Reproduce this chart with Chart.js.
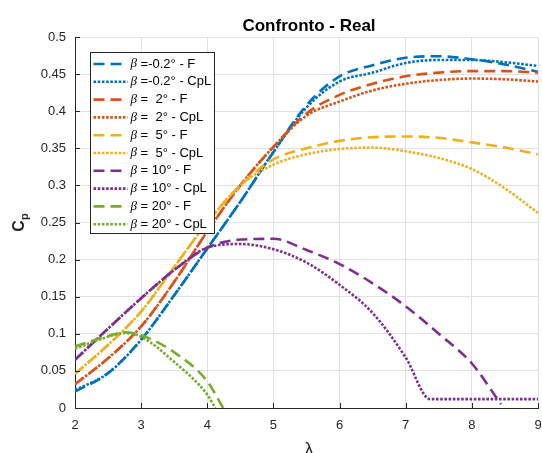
<!DOCTYPE html>
<html>
<head>
<meta charset="utf-8">
<title>Confronto - Real</title>
<script src="https://cdn.jsdelivr.net/npm/chart.js@4.4.0/dist/chart.umd.min.js"></script>
<style>
    html, body { margin: 0; padding: 0; background: #fff; }
    #cpChart { display: block; }
</style>
</head>
<body>
<canvas id="cpChart" width="542" height="453"></canvas>
<script>
(function() {
    'use strict';

    // tip speed ratio samples
    const lambda = [2, 2.5, 3, 3.5, 4, 4.5, 5, 5.5, 6, 6.5, 7, 7.5, 8, 8.5, 9];
    const lambdaPurpleF = [2, 2.5, 3, 3.5, 4, 4.5, 5, 5.5, 6, 6.5, 7, 7.5, 8, 8.44];
    const lambdaPurpleCpL = [2, 2.5, 3, 3.5, 4, 4.5, 5, 5.5, 6, 6.5, 7, 7.37, 7.5, 8, 8.5, 9];
    const lambdaGreenF = [2, 2.5, 2.75, 3, 3.5, 4, 4.24];
    const lambdaGreenCpL = [2, 2.5, 2.75, 3, 3.5, 4, 4.12];

    // power coefficient per pitch angle
    const cpBlueF = [0.022, 0.047, 0.092, 0.152, 0.215, 0.278, 0.345, 0.408, 0.447, 0.462, 0.472, 0.474, 0.470, 0.463, 0.453];
    const cpBlueCpL = [0.024, 0.047, 0.092, 0.152, 0.215, 0.278, 0.345, 0.405, 0.440, 0.452, 0.465, 0.469, 0.469, 0.466, 0.461];
    const cpRedF = [0.032, 0.067, 0.110, 0.170, 0.238, 0.300, 0.352, 0.397, 0.422, 0.437, 0.447, 0.452, 0.454, 0.454, 0.452];
    const cpRedCpL = [0.032, 0.067, 0.110, 0.170, 0.238, 0.300, 0.352, 0.394, 0.413, 0.428, 0.437, 0.442, 0.444, 0.443, 0.440];
    const cpYellowF = [0.046, 0.085, 0.130, 0.190, 0.250, 0.300, 0.335, 0.350, 0.360, 0.365, 0.366, 0.364, 0.358, 0.351, 0.342];
    const cpYellowCpL = [0.046, 0.085, 0.130, 0.190, 0.250, 0.300, 0.328, 0.342, 0.349, 0.351, 0.346, 0.337, 0.322, 0.296, 0.263];
    const cpPurpleF = [0.065, 0.107, 0.148, 0.186, 0.216, 0.227, 0.228, 0.213, 0.194, 0.168, 0.137, 0.100, 0.060, 0.005];
    const cpPurpleCpL = [0.065, 0.107, 0.148, 0.186, 0.216, 0.221, 0.214, 0.196, 0.166, 0.128, 0.068, 0.012, 0.012, 0.012, 0.012, 0.012];
    const cpGreenF = [0.083, 0.097, 0.102, 0.098, 0.075, 0.036, 0.0];
    const cpGreenCpL = [0.080, 0.096, 0.101, 0.096, 0.062, 0.018, 0.0];

    const seriesLabels = [
        'β =-0.2° - F', 'β =-0.2° - CpL',
        'β =  2° - F', 'β =  2° - CpL',
        'β =  5° - F', 'β =  5° - CpL',
        'β = 10° - F', 'β = 10° - CpL',
        'β = 20° - F', 'β = 20° - CpL'
    ];

    const xTicks = [2, 3, 4, 5, 6, 7, 8, 9];
    const yTicks = [0, 0.05, 0.1, 0.15, 0.2, 0.25, 0.3, 0.35, 0.4, 0.45, 0.5];

    const BLUE = '#0072BD';
    const RED = '#D95319';
    const YELLOW = '#EDB120';
    const PURPLE = '#7E2F8E';
    const GREEN = '#77AC30';
    const DASHED = [11, 6];
    const DOTTED = [2.6, 1.6];
    const AXIS_COLOR = '#262626';
    const GRID_COLOR = '#e1e1e1';
    const FONT = '"Liberation Sans", Arial, sans-serif';

    function points(xs, ys) {
        return xs.map((x, i) => ({ x: x, y: ys[i] }));
    }

    const curves = [
        [lambda, cpBlueF, BLUE, DASHED],
        [lambda, cpBlueCpL, BLUE, DOTTED],
        [lambda, cpRedF, RED, DASHED],
        [lambda, cpRedCpL, RED, DOTTED],
        [lambda, cpYellowF, YELLOW, DASHED],
        [lambda, cpYellowCpL, YELLOW, DOTTED],
        [lambdaPurpleF, cpPurpleF, PURPLE, DASHED],
        [lambdaPurpleCpL, cpPurpleCpL, PURPLE, DOTTED],
        [lambdaGreenF, cpGreenF, GREEN, DASHED],
        [lambdaGreenCpL, cpGreenCpL, GREEN, DOTTED]
    ];

    const datasets = curves.map((c, i) => ({
        label: seriesLabels[i],
        data: points(c[0], c[1]),
        borderColor: c[2],
        backgroundColor: c[2],
        borderDash: c[3],
        borderWidth: 2.6,
        pointRadius: 0,
        fill: false,
        cubicInterpolationMode: 'monotone',
        order: curves.length - i
    }));

    // title, axis labels, inward ticks and the boxed legend
    const decorations = {
        id: 'decorations',
        afterDraw(chart) {
            const ctx = chart.ctx;
            const area = chart.chartArea;
            const sx = chart.scales.x;
            const sy = chart.scales.y;
            const midX = 309;

            ctx.save();
            ctx.strokeStyle = AXIS_COLOR;
            ctx.lineWidth = 1;
            ctx.setLineDash([]);
            ctx.beginPath();
            xTicks.forEach((v) => {
                const px = Math.round(sx.getPixelForValue(v)) + 0.5;
                ctx.moveTo(px, area.bottom);
                ctx.lineTo(px, area.bottom - 5);
            });
            yTicks.forEach((v) => {
                const py = Math.round(sy.getPixelForValue(v)) + 0.5;
                ctx.moveTo(area.left, py);
                ctx.lineTo(area.left + 5, py);
            });
            ctx.stroke();

            ctx.fillStyle = '#000';
            ctx.font = 'bold 17px ' + FONT;
            ctx.textAlign = 'center';
            ctx.textBaseline = 'alphabetic';
            ctx.fillText('Confronto - Real', midX, 31);

            ctx.fillStyle = AXIS_COLOR;
            ctx.font = '18px ' + FONT;
            ctx.fillText('λ', midX, 455);

            // C_p, rotated
            ctx.save();
            ctx.translate(24, (area.top + area.bottom) / 2);
            ctx.rotate(-Math.PI / 2);
            ctx.textAlign = 'left';
            ctx.font = 'bold 16px ' + FONT;
            const cw = ctx.measureText('C').width;
            ctx.font = 'bold 11px ' + FONT;
            const pw = ctx.measureText('p').width;
            const start = -(cw + pw) / 2;
            ctx.font = 'bold 16px ' + FONT;
            ctx.fillText('C', start, 0);
            ctx.font = 'bold 11px ' + FONT;
            ctx.fillText('p', start + cw, 4);
            ctx.restore();

            // legend
            const boxX = 90.5;
            const boxY = 52.5;
            const rowH = 17.8;
            const sampleW = 34;
            let maxW = 0;
            chart.data.datasets.forEach((ds) => {
                ctx.font = 'italic 13px "Liberation Serif", serif';
                let w = ctx.measureText(ds.label[0]).width;
                ctx.font = '13px ' + FONT;
                w += ctx.measureText(ds.label.slice(1)).width;
                maxW = Math.max(maxW, w);
            });
            const boxW = Math.round(3 + sampleW + 3 + maxW + 3);
            const boxH = Math.round(rowH * chart.data.datasets.length + 3);
            ctx.fillStyle = '#fff';
            ctx.fillRect(boxX, boxY, boxW, boxH);
            ctx.strokeStyle = AXIS_COLOR;
            ctx.lineWidth = 1;
            ctx.strokeRect(boxX, boxY, boxW, boxH);

            chart.data.datasets.forEach((ds, i) => {
                const cy = boxY + 11.5 + i * rowH;
                ctx.strokeStyle = ds.borderColor;
                ctx.lineWidth = ds.borderWidth;
                ctx.setLineDash(ds.borderDash);
                ctx.beginPath();
                ctx.moveTo(boxX + 3, cy);
                ctx.lineTo(boxX + 3 + sampleW, cy);
                ctx.stroke();
                ctx.setLineDash([]);

                ctx.fillStyle = '#000';
                ctx.textAlign = 'left';
                ctx.textBaseline = 'middle';
                let tx = boxX + 3 + sampleW + 3;
                ctx.font = 'italic 13px "Liberation Serif", serif';
                ctx.fillText(ds.label[0], tx, cy);
                tx += ctx.measureText(ds.label[0]).width;
                ctx.font = '13px ' + FONT;
                ctx.fillText(ds.label.slice(1), tx, cy);
            });
            ctx.restore();
        }
    };

    function initChart() {
        const canvas = document.getElementById('cpChart');
        if (typeof Chart === 'undefined' || !canvas) {
            return;
        }

        new Chart(canvas, {
            type: 'line',
            data: { datasets: datasets },
            options: {
                responsive: false,
                animation: false,
                devicePixelRatio: 1,
                layout: { padding: { top: 37, right: 4, left: 0, bottom: 0 } },
                plugins: {
                    legend: { display: false },
                    tooltip: { enabled: false },
                    title: { display: false }
                },
                scales: {
                    x: {
                        type: 'linear',
                        min: 2,
                        max: 9,
                        afterBuildTicks: (scale) => { scale.ticks = xTicks.map((v) => ({ value: v })); },
                        afterFit: (scale) => {
                            scale.height = 45;
                            scale.paddingLeft = 0;
                            scale.paddingRight = 0;
                        },
                        ticks: { color: AXIS_COLOR, font: { size: 13, family: FONT }, padding: 10, maxRotation: 0 },
                        grid: { color: GRID_COLOR, drawTicks: false },
                        border: { color: AXIS_COLOR, width: 1 }
                    },
                    y: {
                        min: 0,
                        max: 0.5,
                        afterBuildTicks: (scale) => { scale.ticks = yTicks.map((v) => ({ value: v })); },
                        afterFit: (scale) => {
                            scale.width = 75;
                            scale.paddingTop = 0;
                            scale.paddingBottom = 0;
                        },
                        ticks: {
                            color: AXIS_COLOR,
                            font: { size: 13, family: FONT },
                            padding: 9,
                            callback: (v) => String(v)
                        },
                        grid: { color: GRID_COLOR, drawTicks: false },
                        border: { color: AXIS_COLOR, width: 1 }
                    }
                }
            },
            plugins: [decorations]
        });
    }

    if (document.readyState === 'loading') {
        document.addEventListener('DOMContentLoaded', initChart);
    } else {
        initChart();
    }
})();
</script>
</body>
</html>
